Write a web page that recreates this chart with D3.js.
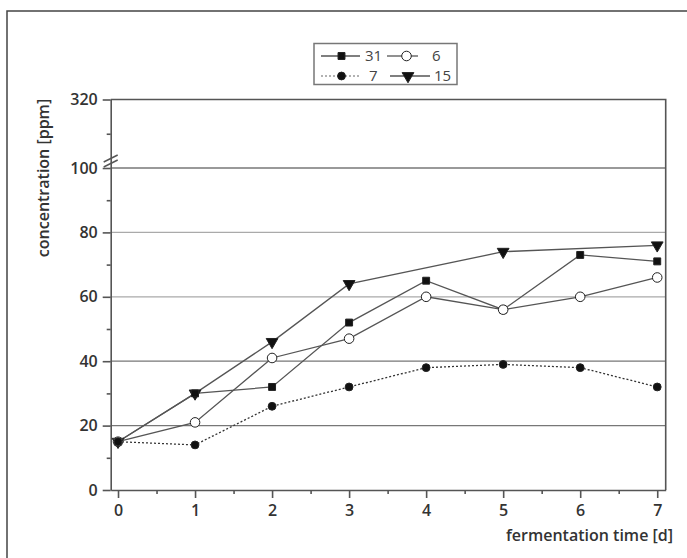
<!DOCTYPE html>
<html>
<head>
<meta charset="utf-8">
<script src="https://cdn.jsdelivr.net/npm/d3@7"></script>
<style>
  body { margin: 0; background: #fff; }
  text { font-family: "Open Sans", sans-serif; font-weight: 600; fill: #333; }
  .legend text { font-weight: 400; fill: #444; }
</style>
</head>
<body>
<svg width="687" height="558"></svg>
<script>
// values
const days = [0, 1, 2, 3, 4, 5, 6, 7];
const s31 = [15, 30, 32, 52, 65, 56, 73, 71];
const s6 = [15, 21, 41, 47, 60, 56, 60, 66];
const s7 = [15, 14, 26, 32, 38, 39, 38, 32];
const s15 = [15, 30, 46, 64, null, 74, null, 76];
const yTicks = [0, 20, 40, 60, 80, 100, 320];
const yMinor = [10, 30, 50, 70, 90, 210];
const xMinor = [0.5, 1.5, 2.5, 3.5, 4.5, 5.5, 6.5];
const gridVals = [20, 40, 60, 80, 100];
const seriesNames = ['31', '6', '7', '15'];

const ink = '#444';
const lineInk = '#555';

const svg = d3.select('svg');

// outer frame of the figure
svg.append('rect')
  .attr('x', 7).attr('y', 11)
  .attr('width', 700).attr('height', 600)
  .attr('fill', 'none').attr('stroke', ink).attr('stroke-width', 1.5);

const x = d3.scaleLinear().domain([-0.095, 7.11]).range([110.7, 665.7]);
// broken y scale: 0-100 normal, 100-320 compressed
const y = d3.scaleLinear().domain([0, 100, 320]).range([490, 168, 99.5]);

// grid
svg.append('g')
  .selectAll('line')
  .data(gridVals)
  .enter()
  .append('line')
  .attr('x1', x.range()[0]).attr('x2', x.range()[1])
  .attr('y1', d => y(d)).attr('y2', d => y(d))
  .attr('stroke', d => (d === 60 || d === 80 ? '#aaa' : '#777'))
  .attr('stroke-width', d => (d === 100 ? 1.6 : 1.3));

// plot box top/right
svg.append('path')
  .attr('d', `M${x.range()[0]},${y(320)}H${x.range()[1]}V${y(0)}`)
  .attr('fill', 'none').attr('stroke', lineInk).attr('stroke-width', 1.6);

// axes
const xAxis = svg.append('g')
  .attr('transform', `translate(0,${y(0)})`)
  .call(d3.axisBottom(x).tickValues(days).tickSize(8).tickSizeOuter(0).tickPadding(4));
svg.append('g')
  .attr('transform', `translate(0,${y(0)})`)
  .call(d3.axisBottom(x).tickValues(xMinor).tickSize(4).tickFormat(''))
  .select('.domain').remove();

svg.append('g')
  .attr('transform', `translate(${x.range()[0]},0)`)
  .call(d3.axisLeft(y).tickValues(yTicks).tickSize(8).tickSizeOuter(0).tickPadding(5));
svg.append('g')
  .attr('transform', `translate(${x.range()[0]},0)`)
  .call(d3.axisLeft(y).tickValues(yMinor).tickSize(4).tickFormat(''))
  .select('.domain').remove();

svg.selectAll('.tick line, .domain')
  .attr('stroke', lineInk).attr('stroke-width', 1.6);
svg.selectAll('.tick text')
  .attr('font-size', 16)
  .attr('fill', '#333');
xAxis.selectAll('.tick text').attr('dy', '0.85em');

// axis break marks
const bx = x.range()[0];
const by = 161;
[-2.5, 2.5].forEach((o) => {
  svg.append('line')
    .attr('x1', bx - 7).attr('y1', by + o + 3.5)
    .attr('x2', bx + 7).attr('y2', by + o - 3.5)
    .attr('stroke', lineInk).attr('stroke-width', 1.4);
});

// axis titles
svg.append('text')
  .attr('x', 673).attr('y', 541)
  .attr('text-anchor', 'end')
  .attr('font-size', 16)
  .text('fermentation time [d]');
svg.append('text')
  .attr('transform', 'translate(49,178) rotate(-90)')
  .attr('text-anchor', 'middle')
  .attr('font-size', 16)
  .text('concentration [ppm]');

// series
const seriesData = [s31, s6, s7, s15];
const styles = [
  { sym: d3.symbolSquare, size: 48, fill: '#111', dash: null, rot: 0 },
  { sym: d3.symbolCircle, size: 72, fill: '#fff', dash: null, rot: 0 },
  { sym: d3.symbolCircle, size: 48, fill: '#111', dash: '2,2', rot: 0 },
  { sym: d3.symbolTriangle, size: 60, fill: '#111', dash: null, rot: 180 },
];

const line = d3.line()
  .x(d => x(d[0]))
  .y(d => y(d[1]));

const pts = seriesData.map(s => days.map((d, i) => [d, s[i]]).filter(p => p[1] !== null));

pts.forEach((p, i) => {
  svg.append('path')
    .datum(p)
    .attr('d', line)
    .attr('fill', 'none')
    .attr('stroke', i === 2 ? '#333' : lineInk)
    .attr('stroke-width', 1.3)
    .attr('stroke-dasharray', styles[i].dash);
});

[3, 0, 1, 2].forEach((i) => {
  const st = styles[i];
  svg.append('g')
    .selectAll('path')
    .data(pts[i])
    .enter()
    .append('path')
    .attr('d', d3.symbol().type(st.sym).size(st.size))
    .attr('transform', d => `translate(${x(d[0])},${y(d[1])}) rotate(${st.rot})`)
    .attr('fill', st.fill)
    .attr('stroke', '#222')
    .attr('stroke-width', 1);
});

// legend
const legend = svg.append('g').attr('class', 'legend');
legend.append('rect')
  .attr('x', 314).attr('y', 43.5)
  .attr('width', 143).attr('height', 41)
  .attr('fill', '#fff').attr('stroke', '#777').attr('stroke-width', 1.5);

const legPos = [
  { x1: 321, x2: 360, mx: 341.5, tx: 365, y: 56 },
  { x1: 387, x2: 418, mx: 406.5, tx: 432, y: 56 },
  { x1: 321, x2: 360, mx: 341.5, tx: 369, y: 76 },
  { x1: 390, x2: 430, mx: 408, tx: 434, y: 76 },
];

seriesNames.forEach((name, i) => {
  const p = legPos[i];
  const st = styles[i];
  legend.append('line')
    .attr('x1', p.x1).attr('x2', p.x2)
    .attr('y1', p.y).attr('y2', p.y)
    .attr('stroke', i === 2 ? '#999' : lineInk)
    .attr('stroke-width', 1.3)
    .attr('stroke-dasharray', st.dash);
  legend.append('path')
    .attr('d', d3.symbol().type(st.sym).size(st.size))
    .attr('transform', `translate(${p.mx},${p.y}) rotate(${st.rot})`)
    .attr('fill', st.fill)
    .attr('stroke', '#222');
  legend.append('text')
    .attr('x', p.tx).attr('y', p.y)
    .attr('dy', '0.35em')
    .attr('font-size', 15)
    .text(name);
});
</script>
</body>
</html>
